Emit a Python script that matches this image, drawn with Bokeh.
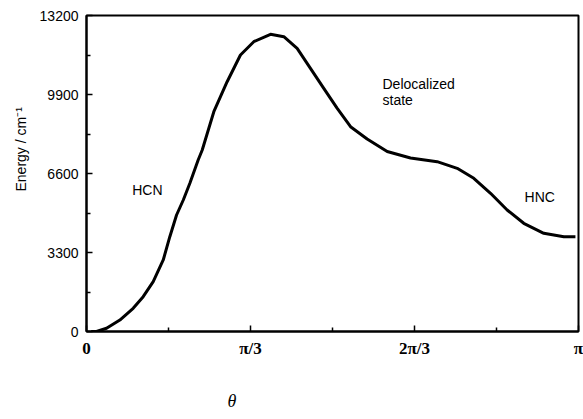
import numpy as np
from bokeh.plotting import figure
from bokeh.models import FixedTicker, Range1d, Title
from bokeh.core.properties import value
from bokeh.embed import file_html
from bokeh.resources import INLINE

# bending angle theta (rad) and energy (cm^-1)
theta = [0.030, 0.064, 0.128, 0.213, 0.298, 0.362, 0.426, 0.490, 0.532, 0.575,
         0.618, 0.660, 0.713, 0.739, 0.813, 0.898, 0.983, 1.068, 1.175, 1.260,
         1.345, 1.430, 1.515, 1.601, 1.686, 1.792, 1.920, 2.069, 2.239, 2.367,
         2.473, 2.580, 2.686, 2.792, 2.920, 3.048, 3.122]
energy = [0, 0, 134, 480, 969, 1454, 2080, 2987, 3960, 4866,
          5493, 6190, 7164, 7581, 9181, 10434, 11549, 12105, 12414, 12314,
          11829, 10994, 10158, 9323, 8555, 8041, 7519, 7247, 7093, 6817,
          6399, 5773, 5075, 4520, 4102, 3960, 3960]

y_ticks = [0, 3300, 6600, 9900, 13200]
y_minor = [1650, 4950, 8250, 11550]
x_ticks = [0, np.pi / 3, 2 * np.pi / 3, np.pi]
x_minor = [np.pi / 6, np.pi / 2, 5 * np.pi / 6]
x_tick_labels = ["0", "π/3", "2π/3", "π"]

annotations = [("HCN", 0.292, 5900), ("Delocalized", 1.890, 10350),
               ("state", 1.890, 9650), ("HNC", 2.797, 5600)]

p = figure(width=583, height=419, output_backend="svg", toolbar_location=None,
           x_range=Range1d(0, np.pi), y_range=Range1d(0, 13200),
           min_border_left=86, min_border_right=5, min_border_top=15,
           min_border_bottom=88)
p.grid.visible = False
p.background_fill_color = "white"
p.border_fill_color = "white"
p.outline_line_color = "black"
p.outline_line_width = 2

p.line(theta, energy, line_color="black", line_width=3, line_join="round")

for txt, tx, ty in annotations:
    p.text([tx], [ty], text=[txt], text_font=value("Liberation Sans"),
           text_font_size="14px", text_baseline="alphabetic", text_align="left",
           text_color="black")

p.xaxis.ticker = FixedTicker(ticks=x_ticks, minor_ticks=x_minor)
p.xaxis.major_label_overrides = {t: l for t, l in zip(x_ticks, x_tick_labels)}
p.yaxis.ticker = FixedTicker(ticks=y_ticks, minor_ticks=y_minor)

for ax in (p.xaxis, p.yaxis):
    ax.axis_line_width = 2
    ax.axis_line_color = "black"
    ax.major_tick_in = 6
    ax.major_tick_out = 0
    ax.minor_tick_in = 4
    ax.minor_tick_out = 0
    ax.major_tick_line_width = 1.5
    ax.minor_tick_line_width = 1.5
    ax.major_label_text_color = "black"

p.xaxis.major_label_text_font = "Liberation Serif"
p.xaxis.major_label_text_font_style = "bold"
p.xaxis.major_label_text_font_size = "17px"
p.xaxis.major_label_standoff = 7
# blank spacer label so that the theta title sits low, as in the reference
p.xaxis.axis_label = "\u00a0"
p.xaxis.axis_label_text_font_size = "12px"
p.xaxis.axis_label_standoff = 3
p.yaxis.major_label_text_font = "Liberation Sans"
p.yaxis.major_label_text_font_size = "14px"
p.yaxis.major_label_standoff = 8

p.add_layout(Title(text="Energy / cm⁻¹", align="left", offset=140,
                   standoff=15, text_font="Liberation Sans",
                   text_font_size="14px", text_font_style="normal",
                   text_color="black"), "left")
p.add_layout(Title(text="θ", align="left", offset=141, standoff=16,
                   text_font="Liberation Serif", text_font_style="italic",
                   text_font_size="18px", text_color="black"), "below")

open("out.html", "w").write(file_html(p, INLINE))
